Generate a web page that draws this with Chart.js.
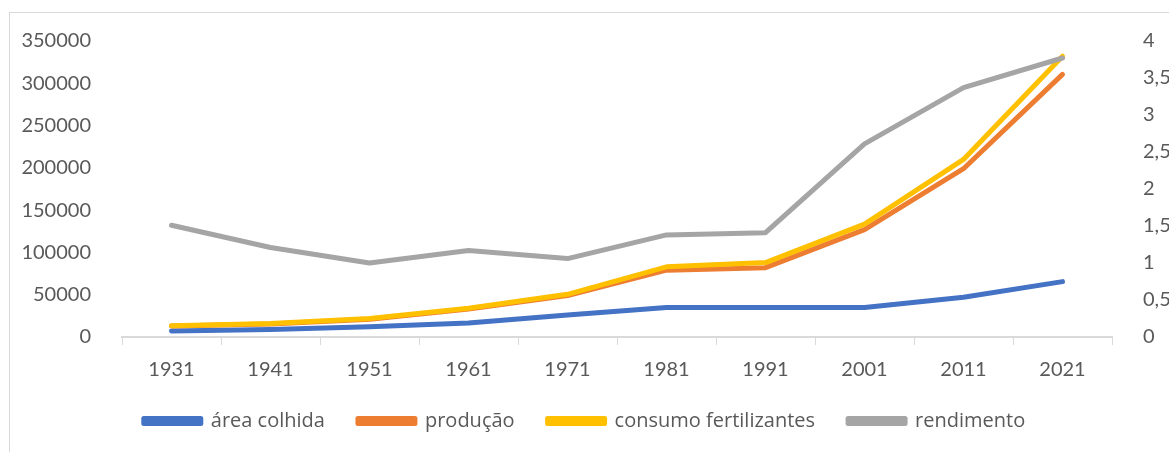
<!DOCTYPE html>
<html>
<head>
<meta charset="utf-8">
<script src="https://cdn.jsdelivr.net/npm/chart.js@4"></script>
<style>
  body { margin: 0; background: #fff; }
  #frame { position: absolute; left: 9px; top: 12px; width: 1300px; height: 600px; border: 1px solid #d9d9d9; }
  #wrap { position: absolute; left: 0; top: 0; width: 1169px; height: 452px; }
</style>
</head>
<body>
<div id="frame"></div>
<div id="wrap"><canvas id="chart" width="1169" height="452"></canvas></div>
<script>
// years on the x axis
const years = ['1931', '1941', '1951', '1961', '1971', '1981', '1991', '2001', '2011', '2021'];

// left axis series
const areaColhida = [7000, 9000, 12000, 16500, 26000, 35000, 35000, 35000, 47000, 65500];
const producao = [13000, 15500, 21000, 33000, 49000, 79000, 82000, 127000, 199000, 310500];
const consumoFertilizantes = [13400, 16000, 22000, 34000, 50500, 83000, 88000, 133500, 210000, 332000];

// right axis series
const rendimento = [1.51, 1.21, 1.0, 1.17, 1.06, 1.38, 1.41, 2.61, 3.37, 3.77];

const labelColor = '#595959';
const font = { family: 'Lato', size: 20 };

function line(label, data, color, axis, order) {
  return {
    label: label,
    data: data,
    borderColor: color,
    backgroundColor: color,
    borderWidth: 5,
    borderCapStyle: 'round',
    borderJoinStyle: 'round',
    pointRadius: 0,
    tension: 0,
    yAxisID: axis,
    order: order // gray drawn on top, blue at the bottom
  };
}

new Chart(document.getElementById('chart').getContext('2d'), {
  type: 'line',
  data: {
    labels: years,
    datasets: [
      line('área colhida', areaColhida, '#4472C4', 'y', 4),
      line('produção', producao, '#ED7D31', 'y', 3),
      line('consumo fertilizantes', consumoFertilizantes, '#FFC000', 'y', 2),
      line('rendimento', rendimento, '#A5A5A5', 'y1', 1)
    ]
  },
  options: {
    responsive: false,
    animation: false,
    layout: { padding: { top: 41, left: 0, right: 0, bottom: 11 } },
    plugins: {
      tooltip: { enabled: false },
      legend: {
        position: 'bottom',
        labels: {
          font: { family: 'Open Sans', size: 20 },
          color: labelColor,
          boxWidth: 57,
          boxHeight: 5,
          padding: 33,
          sort: (a, b) => a.datasetIndex - b.datasetIndex
        }
      }
    },
    scales: {
      x: {
        offset: true,
        grid: { offset: true, drawOnChartArea: false, drawTicks: true, tickLength: 8, color: '#d9d9d9' },
        border: { color: '#d9d9d9', width: 2 },
        ticks: { font: font, color: labelColor, padding: 13 },
        afterFit: s => { s.height = 41; }
      },
      y: {
        position: 'left',
        min: 0,
        max: 350000,
        grid: { display: false },
        border: { display: false },
        ticks: { stepSize: 50000, font: font, color: labelColor, padding: 23, callback: v => String(v) },
        afterFit: s => { s.width = 122; }
      },
      y1: {
        position: 'right',
        min: 0,
        max: 4,
        grid: { display: false },
        border: { display: false },
        ticks: { stepSize: 0.5, font: font, color: labelColor, padding: 23, callback: v => String(v).replace('.', ',') },
        afterFit: s => { s.width = 57; }
      }
    }
  }
});
</script>
</body>
</html>
